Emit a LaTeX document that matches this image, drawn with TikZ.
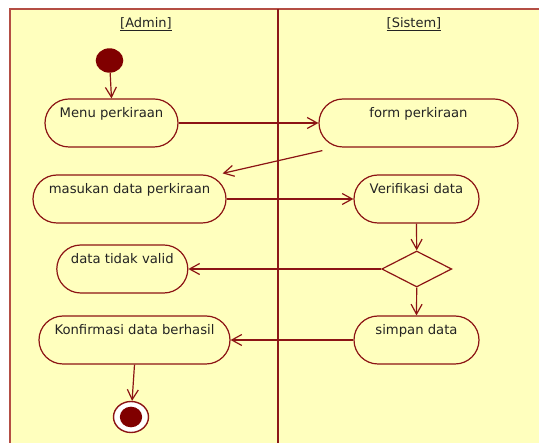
\documentclass[tikz,border=0pt]{standalone}
\usepackage{fontspec}
\setmainfont{DejaVu Sans}
\usetikzlibrary{arrows.meta,shapes.geometric}

\definecolor{laneFill}{RGB}{255,255,190}
\definecolor{laneEdge}{RGB}{180,78,68}
\definecolor{laneSplit}{RGB}{140,24,24}
\definecolor{umlRed}{RGB}{140,20,20}
\definecolor{darkDot}{RGB}{128,0,0}
\definecolor{inkGrey}{RGB}{35,35,35}

\tikzset{
  activity/.style={draw=umlRed, line width=1.2pt, rectangle, rounded corners=24pt,
    minimum height=48pt, inner sep=0pt, text=inkGrey,
    font=\fontsize{13.2}{16}\selectfont, text height=10pt, text depth=20pt},
  flow/.style={draw=umlRed, line width=1.2pt,
    -{Straight Barb[length=10pt,width=11pt,line width=1.2pt]}},
  lanehead/.style={text=inkGrey, font=\fontsize{13}{16}\selectfont, inner sep=0pt},
  choice/.style={draw=umlRed, line width=1.2pt, diamond, inner sep=0pt,
    minimum width=70pt, minimum height=36pt},
}

\begin{document}
\begin{tikzpicture}[x=1pt, y=-1pt]
  \useasboundingbox (0,0) rectangle (539,443);
  \clip (0,0) rectangle (539,443);
  \fill[white] (0,0) rectangle (539,443);

  % swimlane frame and divider
  \draw[fill=laneFill, draw=laneEdge, line width=2pt] (10,9) rectangle (570,470);
  \draw[draw=laneSplit, line width=2.5pt] (278,9) -- (278,470);

  \node[lanehead] (hAdmin)  at (146,24) {\underline{[Admin]}};
  \node[lanehead] (hSistem) at (414,24) {\underline{[Sistem]}};

  % start and end markers
  \node[ellipse, fill=darkDot, inner sep=0pt, minimum width=27.6pt, minimum height=24.4pt] (start) at (109.5,60.5) {};
  \node[ellipse, draw=umlRed, line width=1.4pt, fill=white, inner sep=0pt,
        minimum width=35pt, minimum height=31pt] (finish) at (131,417) {};
  \node[ellipse, fill=darkDot, inner sep=0pt, minimum width=22.3pt, minimum height=20.6pt] (finishDot) at (131,417) {};

  % activities
  \node[activity, minimum width=133pt] (menu)    at (111.5,123) {Menu perkiraan};
  \node[activity, minimum width=199pt] (form)    at (418.5,123) {form perkiraan};
  \node[activity, minimum width=193pt] (masukan) at (129.5,199) {masukan data perkiraan};
  \node[activity, minimum width=125pt] (verif)   at (416.5,199) {Verifikasi data};
  \node[activity, minimum width=131pt] (tidak)   at (122.3,269) {data tidak valid};
  \node[activity, minimum width=125pt] (simpan)  at (416.5,340) {simpan data};
  \node[activity, minimum width=191pt] (konf)    at (134.5,340) {Konfirmasi data berhasil};

  \node[choice] (cek) at (416.7,269) {};

  % control flow
  \draw[flow] (start) -- (menu.north);
  \draw[flow] (menu.east) -- (form.west);
  \draw[flow] ([shift={(4,3)}]form.south west) -- ([shift={(-4,-1)}]masukan.north east);
  \draw[flow] (masukan.east) -- (verif.west);
  \draw[flow] (verif.south) -- (cek.north);
  \draw[flow] (cek.west) -- (tidak.east);
  \draw[flow] (cek.south) -- (simpan.north);
  \draw[flow] (simpan.west) -- (konf.east);
  \draw[flow] (konf.south) -- (finish);
\end{tikzpicture}
\end{document}
